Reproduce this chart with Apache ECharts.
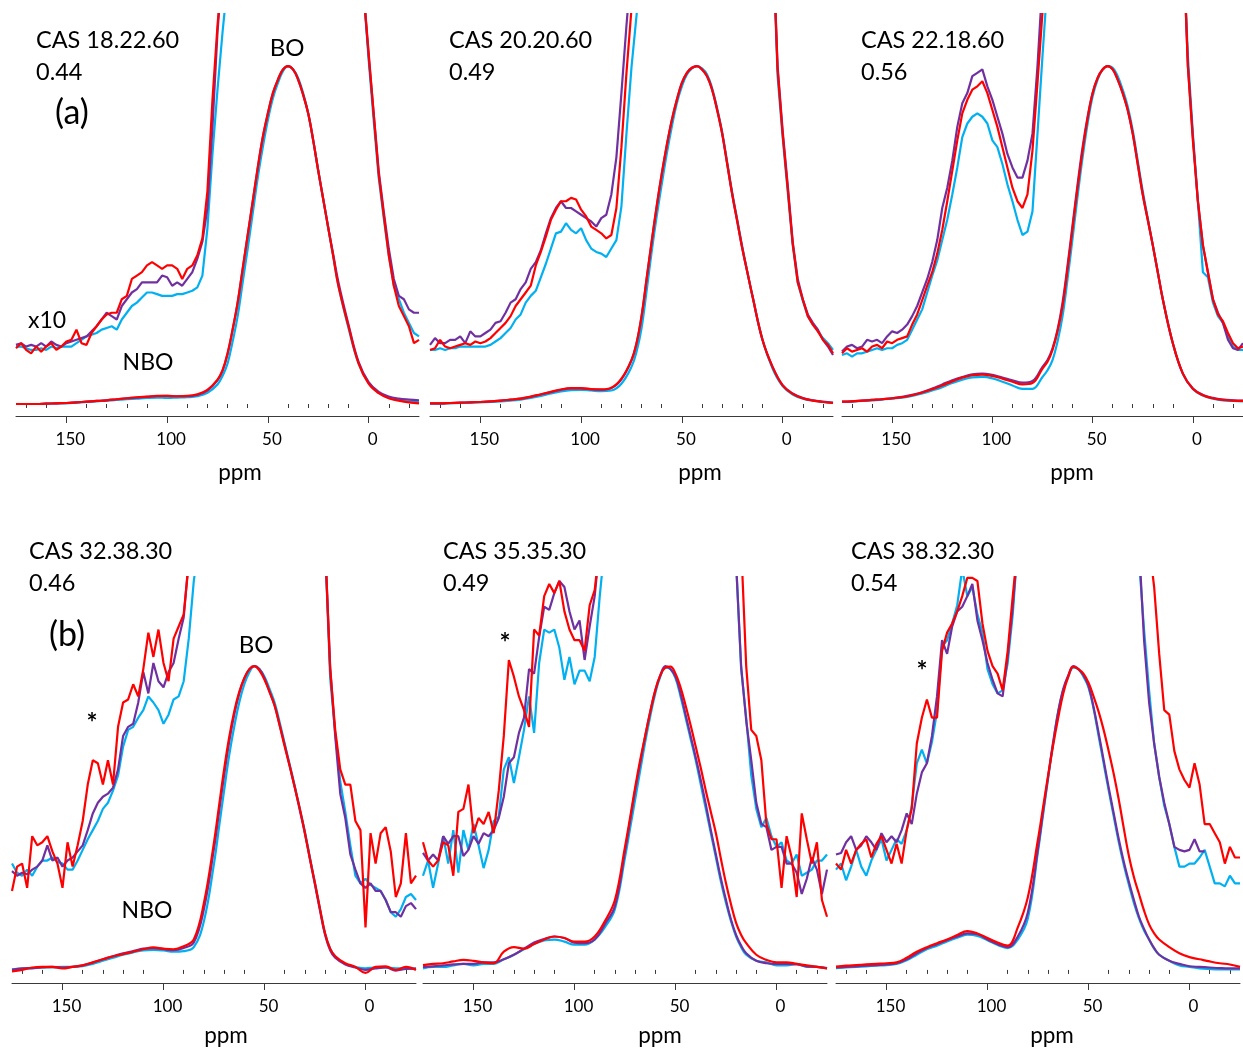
<!DOCTYPE html>
<html>
<head>
<meta charset="utf-8">
<script src="https://cdn.jsdelivr.net/npm/echarts@6/dist/echarts.min.js"></script>
<style>
  html, body { margin: 0; padding: 0; background: #fff; }
  #chart { width: 1243px; height: 1053px; }
</style>
</head>
<body>
<div id="chart"></div>
<script>
// ppm grids (main curves finer around the BO peak)
const ppmMain = [175,170,165,160,155,150,145,140,135,130,125,120,115,110,105,100,95,90,85,80,
  75,72.5,70,67.5,65,62.5,60,57.5,55,52.5,50,47.5,45,42.5,40,37.5,35,32.5,30,27.5,25,22.5,20,17.5,
  15,10,5,0,-5,-10,-15,-20,-25];
const ppmFine = [175,172.5,170,167.5,165,162.5,160,157.5,155,152.5,150,147.5,145,142.5,140,137.5,135,132.5,130,127.5,125,122.5,120,117.5,115,112.5,110,107.5,105,102.5,100,97.5,95,92.5,90,87.5,85,82.5,80,77.5,75,72.5,70,67.5,65,62.5,60,57.5,55,52.5,50,47.5,45,42.5,40,37.5,35,32.5,30,27.5,25,22.5,20,17.5,15,12.5,10,7.5,5,2.5,0,-2.5,-5,-7.5,-10,-12.5,-15,-17.5,-20,-22.5,-25];
const tickLabels = [150, 100, 50, 0];
const minorTicks = [170,160,140,130,120,110,90,80,70,60,40,30,20,10,-10,-20];

// panel titles
const casNames = ['CAS 18.22.60', 'CAS 20.20.60', 'CAS 22.18.60', 'CAS 32.38.30', 'CAS 35.35.30', 'CAS 38.32.30'];
const ratios = ['0.44', '0.49', '0.56', '0.46', '0.49', '0.54'];

// ---- panel 1 (CAS 18.22.60) ----
const p1CyanMain = [0,0,0,0.001,0.002,0.002,0.004,0.006,0.008,0.01, 0.012,0.014,0.016,0.018,0.019,0.018,0.019,0.02,0.023,0.033,
  0.058,0.083,0.12,0.185,0.26,0.36,0.46,0.565,0.67,0.76,0.84,0.905,0.95,0.985,1.0,0.99,0.965,0.92,0.86,0.78,0.69,0.605,0.52,0.435,
  0.35,0.225,0.12,0.062,0.033,0.018,0.011,0.007,0.005];
const p1PurpleMain = [0,0,0,0.001,0.002,0.003,0.005,0.007,0.009,0.011, 0.014,0.017,0.019,0.021,0.023,0.024,0.023,0.023,0.027,0.04,
  0.07,0.098,0.148,0.22,0.3,0.4,0.5,0.6,0.7,0.79,0.86,0.92,0.96,0.99,1.0,0.99,0.96,0.915,0.86,0.78,0.69,0.605,0.52,0.44,
  0.36,0.235,0.125,0.065,0.036,0.022,0.016,0.013,0.011];
const p1RedMain = [0,0,0,0.001,0.002,0.003,0.005,0.007,0.009,0.011, 0.014,0.017,0.02,0.022,0.024,0.024,0.023,0.024,0.029,0.042,
  0.072,0.1,0.15,0.22,0.3,0.4,0.5,0.6,0.7,0.79,0.86,0.92,0.96,0.99,1.0,0.99,0.96,0.915,0.86,0.78,0.69,0.605,0.52,0.435,
  0.35,0.23,0.12,0.06,0.032,0.017,0.01,0.005,0.002];
const p1CyanX10L = [0.17,0.17,0.165,0.16,0.16,0.165,0.16,0.17,0.165,0.17,0.17, 0.17,0.18,0.19,0.2,0.205,0.21,0.22,0.225,0.23,0.22, 0.25,0.27,0.29,0.30,0.315,0.33,0.33,0.325,0.32,0.32, 0.32,0.325,0.325,0.33,0.335,0.345,0.38,0.52,0.74,0.93,1.1,1.25];
const p1PurpleX10L = [0.175,0.18,0.17,0.175,0.17,0.18,0.17,0.185,0.175,0.17,0.18, 0.185,0.19,0.195,0.2,0.215,0.23,0.25,0.27,0.26,0.25, 0.29,0.31,0.33,0.34,0.36,0.36,0.36,0.36,0.38,0.375, 0.35,0.36,0.35,0.37,0.39,0.43,0.48,0.58,0.82,1.1,1.3];
const p1RedX10L = [0.165,0.18,0.16,0.15,0.17,0.155,0.17,0.18,0.16,0.17,0.185, 0.19,0.22,0.18,0.175,0.21,0.23,0.25,0.265,0.27,0.27, 0.31,0.32,0.37,0.38,0.39,0.41,0.42,0.41,0.40,0.41, 0.41,0.40,0.37,0.40,0.41,0.44,0.49,0.63,0.9,1.12,1.3];
const p1CyanX10R = [1.22,1.02,0.84,0.67,0.55,0.44,0.35,0.31,0.27,0.24,0.21,0.2];
const p1PurpleX10R = [1.22,1.03,0.86,0.69,0.57,0.46,0.37,0.32,0.31,0.28,0.27,0.27];
const p1RedX10R = [1.22,1.04,0.86,0.68,0.56,0.44,0.35,0.29,0.26,0.23,0.18,0.19];

// ---- panel 2 (CAS 20.20.60) ----
const p2CyanMain = [0.001,0.001,0.002,0.003,0.004,0.005,0.006,0.008,0.01,0.013, 0.018,0.024,0.031,0.037,0.041,0.042,0.04,0.038,0.04,0.06,
  0.11,0.155,0.225,0.335,0.45,0.555,0.65,0.74,0.82,0.89,0.94,0.975,0.993,1.0,0.993,0.975,0.935,0.875,0.805,0.715,0.625,0.545,0.465,0.39,
  0.32,0.19,0.105,0.053,0.028,0.016,0.01,0.006,0.003];
const p2PurpleMain = [0.002,0.002,0.003,0.004,0.005,0.006,0.008,0.01,0.013,0.016, 0.021,0.028,0.035,0.042,0.046,0.046,0.043,0.042,0.047,0.073,
  0.13,0.18,0.26,0.37,0.48,0.585,0.68,0.765,0.84,0.9,0.95,0.98,0.995,1.0,0.99,0.97,0.93,0.87,0.8,0.71,0.62,0.54,0.46,0.39,
  0.32,0.19,0.11,0.056,0.031,0.018,0.011,0.007,0.004];
const p2RedMain = [0.002,0.002,0.003,0.004,0.005,0.006,0.008,0.01,0.013,0.016, 0.022,0.029,0.036,0.043,0.047,0.047,0.044,0.043,0.048,0.075,
  0.13,0.18,0.26,0.37,0.48,0.585,0.68,0.765,0.84,0.9,0.95,0.98,0.995,1.0,0.99,0.97,0.93,0.87,0.8,0.71,0.62,0.54,0.46,0.39,
  0.32,0.19,0.11,0.055,0.03,0.017,0.01,0.006,0.003];
const p2CyanX10L = [0.16,0.16,0.165,0.16,0.165,0.165,0.17,0.17,0.17,0.17,0.17, 0.17,0.175,0.185,0.195,0.21,0.225,0.25,0.265,0.3,0.32, 0.335,0.375,0.415,0.46,0.505,0.51,0.535,0.515,0.505,0.52, 0.485,0.46,0.45,0.445,0.435,0.46,0.485,0.585,0.8,0.997,1.15,1.3];
const p2PurpleX10L = [0.175,0.195,0.18,0.18,0.19,0.19,0.2,0.18,0.215,0.2,0.2, 0.21,0.22,0.24,0.245,0.27,0.3,0.31,0.34,0.36,0.4, 0.42,0.455,0.505,0.55,0.58,0.6,0.58,0.58,0.57,0.56, 0.55,0.54,0.525,0.55,0.56,0.62,0.73,0.92,1.12,1.3];
const p2RedX10L = [0.16,0.165,0.19,0.17,0.165,0.17,0.175,0.18,0.175,0.185,0.18, 0.185,0.195,0.21,0.225,0.24,0.26,0.29,0.31,0.33,0.35, 0.41,0.45,0.495,0.545,0.575,0.6,0.6,0.61,0.605,0.575, 0.555,0.525,0.515,0.505,0.49,0.5,0.58,0.76,0.98,1.17,1.3];
const p2CyanX10R = [1.4,0.97,0.79,0.63,0.47,0.36,0.305,0.26,0.235,0.215,0.195,0.18,0.16];
const p2PurpleX10R = [1.4,1.0,0.81,0.65,0.48,0.37,0.31,0.265,0.24,0.22,0.19,0.17,0.145];
const p2RedX10R = [1.4,0.99,0.8,0.64,0.475,0.36,0.31,0.26,0.235,0.215,0.19,0.175,0.15];

// ---- panel 3 (CAS 22.18.60) ----
const p3CyanMain = [0.006,0.007,0.009,0.011,0.013,0.016,0.019,0.024,0.031,0.04, 0.05,0.062,0.072,0.079,0.08,0.076,0.066,0.055,0.045,0.045,
  0.08,0.1,0.13,0.185,0.26,0.37,0.49,0.615,0.73,0.83,0.91,0.96,0.99,1.0,0.995,0.97,0.93,0.88,0.81,0.72,0.63,0.55,0.47,0.39,
  0.31,0.18,0.09,0.044,0.025,0.016,0.011,0.009,0.008];
const p3PurpleMain = [0.007,0.008,0.01,0.012,0.014,0.017,0.021,0.027,0.035,0.046, 0.058,0.07,0.08,0.088,0.09,0.086,0.078,0.07,0.063,0.068,
  0.11,0.13,0.165,0.22,0.3,0.41,0.53,0.65,0.76,0.85,0.92,0.965,0.99,1.0,0.99,0.96,0.92,0.87,0.8,0.71,0.62,0.545,0.47,0.39,
  0.31,0.18,0.09,0.046,0.027,0.018,0.013,0.011,0.01];
const p3RedMain = [0.007,0.008,0.01,0.012,0.014,0.017,0.02,0.026,0.034,0.044, 0.055,0.067,0.078,0.085,0.087,0.083,0.075,0.066,0.058,0.062,
  0.105,0.125,0.16,0.215,0.29,0.4,0.52,0.64,0.75,0.845,0.92,0.965,0.99,1.0,0.99,0.96,0.92,0.87,0.8,0.71,0.62,0.545,0.47,0.39,
  0.31,0.18,0.09,0.045,0.026,0.017,0.012,0.01,0.009];
const p3CyanX10L = [0.145,0.15,0.14,0.15,0.15,0.155,0.16,0.165,0.16,0.165,0.165, 0.175,0.18,0.19,0.22,0.25,0.28,0.33,0.38,0.425,0.485, 0.545,0.62,0.7,0.79,0.83,0.85,0.86,0.85,0.83,0.78, 0.76,0.71,0.65,0.6,0.545,0.5,0.51,0.57,0.8,1.03,1.25];
const p3PurpleX10L = [0.155,0.17,0.175,0.165,0.17,0.19,0.185,0.19,0.18,0.2,0.215, 0.21,0.22,0.235,0.26,0.29,0.33,0.37,0.42,0.485,0.58, 0.64,0.72,0.82,0.89,0.92,0.97,0.98,0.99,0.94,0.9, 0.85,0.8,0.74,0.7,0.67,0.67,0.72,0.8,1.0,1.25];
const p3RedX10L = [0.15,0.165,0.155,0.16,0.165,0.155,0.17,0.175,0.165,0.185,0.18, 0.19,0.195,0.2,0.235,0.265,0.307,0.35,0.39,0.445,0.515, 0.6,0.69,0.78,0.86,0.9,0.93,0.94,0.955,0.92,0.87, 0.82,0.76,0.7,0.64,0.6,0.58,0.62,0.75,0.95,1.16,1.35];
const p3CyanX10R = [1.4,1.03,0.8,0.6,0.39,0.375,0.3,0.26,0.24,0.2,0.17,0.16,0.16];
const p3PurpleX10R = [1.4,1.0,0.79,0.6,0.47,0.39,0.31,0.27,0.24,0.19,0.165,0.16,0.18];
const p3RedX10R = [1.4,1.0,0.78,0.6,0.47,0.39,0.31,0.265,0.245,0.21,0.18,0.165,0.17];

// ---- panel 4 (CAS 32.38.30) ----
const p4CyanMain = [0.002,0.004,0.005,0.008,0.008,0.01,0.01,0.012,0.02,0.03, 0.04,0.05,0.058,0.064,0.066,0.064,0.06,0.062,0.075,0.16,
  0.35,0.47,0.59,0.705,0.8,0.88,0.94,0.98,1.0,0.99,0.965,0.925,0.88,0.815,0.745,0.675,0.605,0.53,0.455,0.37,0.285,0.2,0.12,0.07,
  0.045,0.02,0.01,0.005,0.008,0.008,0.005,0.006,0.004];
const p4PurpleMain = [0.0,0.005,0.006,0.008,0.01,0.008,0.01,0.015,0.024,0.035, 0.045,0.055,0.062,0.07,0.072,0.068,0.065,0.072,0.09,0.2,
  0.4,0.52,0.64,0.75,0.84,0.91,0.96,0.99,1.0,0.99,0.96,0.915,0.87,0.805,0.74,0.67,0.6,0.525,0.45,0.365,0.28,0.195,0.115,0.065,
  0.04,0.018,0.008,0.0,0.005,0.008,-0.002,0.003,0.004];
const p4RedMain = [-0.005,0.0,0.008,0.01,0.01,0.005,0.01,0.015,0.025,0.035, 0.045,0.052,0.06,0.068,0.074,0.07,0.068,0.078,0.1,0.22,
  0.42,0.54,0.66,0.765,0.85,0.915,0.96,0.99,1.0,0.985,0.955,0.915,0.87,0.805,0.735,0.67,0.6,0.53,0.45,0.365,0.285,0.2,0.12,0.07,
  0.045,0.022,0.01,-0.01,0.01,0.012,0.0,0.01,0.0];
const p4CyanX10L = [0.35,0.32,0.31,0.33,0.31,0.34,0.36,0.36,0.37,0.356,0.35, 0.33,0.33,0.36,0.395,0.43,0.46,0.49,0.53,0.55,0.59, 0.64,0.735,0.79,0.8,0.83,0.855,0.9,0.88,0.855,0.81, 0.84,0.89,0.9,0.95,1.09,1.28,1.4];
const p4PurpleX10L = [0.325,0.31,0.32,0.315,0.33,0.34,0.36,0.41,0.36,0.37,0.34, 0.36,0.37,0.39,0.41,0.46,0.515,0.55,0.57,0.58,0.6, 0.66,0.77,0.8,0.81,0.88,0.98,0.91,1.01,0.95,0.93, 0.98,1.01,1.09,1.16,1.35];
const p4RedX10L = [0.26,0.34,0.35,0.27,0.44,0.41,0.42,0.44,0.39,0.35,0.27, 0.42,0.34,0.41,0.49,0.61,0.69,0.68,0.61,0.69,0.61, 0.8,0.88,0.89,0.94,0.9,0.99,1.11,1.03,1.12,1.01, 0.95,1.09,1.13,1.17,1.34,1.5];
const p4CyanX10R = [1.4,0.96,0.78,0.62,0.52,0.41,0.31,0.285,0.3,0.28,0.27,0.26,0.23,0.19,0.175,0.2,0.24,0.25,0.23];
const p4PurpleX10R = [1.4,1.0,0.77,0.58,0.5,0.38,0.33,0.285,0.27,0.285,0.26,0.26,0.23,0.19,0.19,0.175,0.21,0.22,0.2];
const p4RedX10R = [1.4,0.99,0.79,0.66,0.61,0.61,0.49,0.46,0.14,0.45,0.35,0.45,0.47,0.39,0.24,0.285,0.45,0.285,0.31];

// ---- panel 5 (CAS 35.35.30) ----
const p5CyanMain = [0.005,0.01,0.01,0.015,0.02,0.015,0.02,0.02,0.035,0.05, 0.068,0.085,0.097,0.1,0.093,0.083,0.083,0.1,0.14,0.2,
  0.37,0.465,0.56,0.655,0.75,0.835,0.91,0.965,0.995,0.99,0.96,0.9,0.83,0.76,0.69,0.61,0.53,0.45,0.37,0.29,0.22,0.16,0.11,0.075,
  0.05,0.03,0.025,0.015,0.015,0.02,0.01,0.01,0.005];
const p5PurpleMain = [0.01,0.012,0.015,0.018,0.02,0.02,0.025,0.025,0.035,0.05, 0.07,0.09,0.102,0.11,0.105,0.09,0.088,0.1,0.15,0.21,
  0.39,0.49,0.59,0.68,0.77,0.85,0.92,0.97,1.0,0.99,0.965,0.91,0.84,0.77,0.7,0.625,0.545,0.46,0.38,0.3,0.23,0.165,0.115,0.08,
  0.055,0.03,0.022,0.02,0.02,0.018,0.012,0.01,0.006];
const p5RedMain = [0.016,0.02,0.022,0.028,0.033,0.03,0.025,0.022,0.06,0.075, 0.07,0.085,0.1,0.11,0.105,0.093,0.093,0.11,0.16,0.23,
  0.405,0.5,0.6,0.69,0.77,0.85,0.92,0.97,0.995,0.998,0.975,0.93,0.87,0.805,0.735,0.665,0.59,0.52,0.45,0.365,0.285,0.215,0.155,0.115,
  0.088,0.05,0.033,0.025,0.025,0.02,0.015,0.01,0.005];
const p5CyanX10L = [0.31,0.36,0.27,0.35,0.44,0.35,0.46,0.32,0.46,0.395,0.48, 0.41,0.335,0.395,0.49,0.505,0.66,0.7,0.615,0.7,0.79, 0.9,0.78,1.01,1.12,1.11,1.12,1.06,0.955,1.03,0.94, 0.985,0.985,0.95,1.03,1.23,1.4];
const p5PurpleX10L = [0.385,0.36,0.38,0.36,0.44,0.415,0.44,0.44,0.375,0.395,0.44, 0.415,0.45,0.44,0.46,0.5,0.57,0.68,0.7,0.78,0.83, 0.99,0.975,1.095,1.195,1.185,1.24,1.28,1.26,1.18,1.12, 1.15,1.02,1.13,1.23,1.4];
const p5RedX10L = [0.42,0.36,0.34,0.36,0.42,0.41,0.31,0.52,0.53,0.61,0.45, 0.5,0.48,0.52,0.45,0.59,0.77,1.02,0.965,0.9,0.855, 0.8,1.12,1.1,1.23,1.27,1.24,1.28,1.18,1.12,1.085, 1.085,1.05,1.2,1.25,1.4];
const p5CyanX10R = [1.34,0.99,0.83,0.64,0.53,0.47,0.5,0.44,0.405,0.42,0.36,0.35,0.38,0.31,0.32,0.33,0.36,0.36,0.38];
const p5PurpleX10R = [1.34,1.0,0.82,0.69,0.55,0.48,0.47,0.395,0.405,0.405,0.35,0.35,0.32,0.25,0.3,0.37,0.33,0.25,0.33];
const p5RedX10R = [1.4,1.0,0.79,0.77,0.69,0.48,0.43,0.43,0.27,0.44,0.37,0.24,0.515,0.43,0.35,0.42,0.23,0.175];

// ---- panel 6 (CAS 38.32.30) ----
const p6CyanMain = [0.006,0.008,0.01,0.012,0.014,0.016,0.02,0.032,0.05,0.068, 0.08,0.094,0.106,0.116,0.112,0.098,0.082,0.072,0.1,0.17,
  0.39,0.51,0.63,0.745,0.85,0.92,0.965,0.995,0.99,0.965,0.93,0.86,0.77,0.68,0.59,0.505,0.42,0.345,0.28,0.22,0.17,0.13,0.1,0.07,
  0.05,0.03,0.015,0.01,0.005,0.003,0.002,0.002,0.002];
const p6PurpleMain = [0.008,0.01,0.012,0.014,0.016,0.018,0.022,0.035,0.055,0.072, 0.085,0.098,0.11,0.12,0.118,0.1,0.085,0.075,0.11,0.19,
  0.4,0.52,0.635,0.75,0.85,0.925,0.97,1.0,0.99,0.97,0.935,0.865,0.78,0.69,0.6,0.515,0.43,0.355,0.29,0.23,0.175,0.135,0.1,0.072,
  0.05,0.03,0.02,0.012,0.01,0.008,0.006,0.005,0.005];
const p6RedMain = [0.011,0.014,0.016,0.018,0.02,0.022,0.025,0.04,0.06,0.075, 0.088,0.1,0.115,0.128,0.12,0.105,0.09,0.08,0.14,0.24,
  0.43,0.535,0.64,0.74,0.83,0.91,0.965,0.998,0.99,0.975,0.945,0.9,0.85,0.79,0.72,0.645,0.56,0.465,0.375,0.305,0.25,0.195,0.15,0.12,
  0.1,0.075,0.055,0.042,0.035,0.028,0.022,0.018,0.01];
const p6CyanX10L = [0.33,0.35,0.295,0.34,0.395,0.34,0.31,0.36,0.395,0.43,0.36, 0.395,0.43,0.415,0.46,0.54,0.68,0.725,0.68,0.75,0.85, 1.065,1.085,1.14,1.2,1.32,1.23,1.26,1.17,1.11,0.99, 0.94,0.91,0.92,1.01,1.17,1.4];
const p6PurpleX10L = [0.38,0.385,0.42,0.44,0.395,0.41,0.44,0.42,0.395,0.45,0.42, 0.44,0.42,0.46,0.515,0.48,0.58,0.65,0.68,0.77,0.9, 1.085,1.04,1.13,1.18,1.195,1.23,1.27,1.15,1.085,1.01, 0.955,0.91,0.9,1.03,1.195,1.4];
const p6RedX10L = [0.35,0.33,0.395,0.35,0.395,0.415,0.43,0.37,0.415,0.44,0.395, 0.35,0.415,0.35,0.46,0.53,0.745,0.83,0.89,0.83,0.83, 1.05,1.11,1.14,1.18,1.23,1.29,1.29,1.28,1.14,1.05, 1.0,0.975,0.92,1.05,1.23,1.4];
const p6CyanX10R = [1.35,1.12,0.92,0.745,0.635,0.54,0.48,0.405,0.34,0.34,0.35,0.35,0.37,0.395,0.34,0.285,0.285,0.275,0.31,0.285,0.285];
const p6PurpleX10R = [1.4,1.085,0.88,0.745,0.635,0.55,0.48,0.405,0.395,0.39,0.395,0.43,0.39,0.39,null,null,null,null,null,null,null];
const p6RedX10R = [1.4,1.26,1.04,0.855,0.84,0.72,0.66,0.625,0.6,0.68,0.61,0.48,0.48,0.45,0.42,0.35,0.405,0.37,0.37];

const panels = [
  { main: [p1CyanMain, p1PurpleMain, p1RedMain], left: [p1CyanX10L, p1PurpleX10L, p1RedX10L], right: [p1CyanX10R, p1PurpleX10R, p1RedX10R] },
  { main: [p2CyanMain, p2PurpleMain, p2RedMain], left: [p2CyanX10L, p2PurpleX10L, p2RedX10L], right: [p2CyanX10R, p2PurpleX10R, p2RedX10R] },
  { main: [p3CyanMain, p3PurpleMain, p3RedMain], left: [p3CyanX10L, p3PurpleX10L, p3RedX10L], right: [p3CyanX10R, p3PurpleX10R, p3RedX10R] },
  { main: [p4CyanMain, p4PurpleMain, p4RedMain], left: [p4CyanX10L, p4PurpleX10L, p4RedX10L], right: [p4CyanX10R, p4PurpleX10R, p4RedX10R] },
  { main: [p5CyanMain, p5PurpleMain, p5RedMain], left: [p5CyanX10L, p5PurpleX10L, p5RedX10L], right: [p5CyanX10R, p5PurpleX10R, p5RedX10R] },
  { main: [p6CyanMain, p6PurpleMain, p6RedMain], left: [p6CyanX10L, p6PurpleX10L, p6RedX10L], right: [p6CyanX10R, p6PurpleX10R, p6RedX10R] }
];
const lineColors = ['#00B0F0', '#7030A0', '#FF0000'];

// layout
const gridLeft = [16, 430, 842, 12, 423, 836];
const gridTop = [14, 14, 14, 577, 577, 577];
const gridW = [403, 403, 403, 404, 404, 404];
const gridH = [402, 402, 402, 406, 406, 406];
const yMin = [-0.0355, -0.0355, -0.0355, -0.043, -0.043, -0.043];
const yMax = [1.154, 1.154, 1.154, 1.293, 1.293, 1.293];
const FONT = 'Lato, "Open Sans", sans-serif';
const axisColor = '#3a3a3a';

function mainData(vals) { return vals.map((v, i) => [ppmMain[i], v]); }
function leftData(vals) { return vals.map((v, i) => [ppmFine[i], v]); }
function rightData(vals) {
  const off = ppmFine.length - vals.length;
  return vals.map((v, i) => [ppmFine[off + i], v]);
}

let grid = [], xAxis = [], yAxis = [], series = [];
panels.forEach((p, g) => {
  grid.push({ left: gridLeft[g], top: gridTop[g], width: gridW[g], height: gridH[g], containLabel: false });
  // major ticks + labels
  xAxis.push({
    type: 'value', gridIndex: g, min: -25, max: 175, inverse: true, position: 'bottom',
    axisLine: { show: true, onZero: false, lineStyle: { color: axisColor, width: 1 } },
    axisTick: { show: true, customValues: tickLabels, length: 7, lineStyle: { color: axisColor } },
    axisLabel: { customValues: tickLabels, margin: 15, fontSize: 17, color: '#000', fontFamily: FONT, padding: [0, 0, 0, 8] },
    splitLine: { show: false }
  });
  // minor ticks
  xAxis.push({
    type: 'value', gridIndex: g, min: -25, max: 175, inverse: true, position: 'bottom',
    axisLine: { show: false },
    axisTick: { show: true, customValues: minorTicks, length: 4, lineStyle: { color: axisColor } },
    axisLabel: { show: false },
    splitLine: { show: false }
  });
  yAxis.push({ type: 'value', gridIndex: g, min: yMin[g], max: yMax[g], show: false });

  for (let k = 0; k < 3; k++) {
    const base = { type: 'line', xAxisIndex: 2 * g, yAxisIndex: g, symbol: 'none', silent: true,
                   clip: true, lineStyle: { color: lineColors[k], width: 2.2 }, itemStyle: { color: lineColors[k] } };
    series.push(Object.assign({}, base, { data: mainData(p.main[k]), smooth: 0.4 }));
    series.push(Object.assign({}, base, { data: leftData(p.left[k]) }));
    series.push(Object.assign({}, base, { data: rightData(p.right[k]) }));
  }
});

function txt(x, y, s, size, align, weight) {
  return { type: 'text', x: x, y: y, silent: true,
    style: { text: s, fontSize: size, fontFamily: FONT, fontWeight: weight || 'normal', fill: '#000',
             align: align || 'left', verticalAlign: 'middle' } };
}
const textX = [36, 449, 861, 29, 443, 851];
const textY = [40, 40, 40, 551, 551, 551];
let graphic = [];
for (let g = 0; g < 6; g++) {
  graphic.push(txt(textX[g], textY[g], casNames[g], 23.5));
  graphic.push(txt(textX[g], textY[g] + 32, ratios[g], 23.5));
}
graphic.push(txt(72, 113, '(a)', 34, 'center'));
graphic.push(txt(67, 635, '(b)', 34, 'center'));
graphic.push(txt(287, 48, 'BO', 24, 'center'));
graphic.push(txt(256, 645, 'BO', 24, 'center'));
graphic.push(txt(28, 321, 'x10', 23));
graphic.push(txt(148, 363, 'NBO', 23, 'center'));
graphic.push(txt(147, 911, 'NBO', 23, 'center'));
graphic.push(txt(92, 724, '*', 26, 'center', 'bold'));
graphic.push(txt(505, 644, '*', 26, 'center', 'bold'));
graphic.push(txt(922, 672, '*', 26, 'center', 'bold'));
const ppmX = [240, 700, 1072, 226, 660, 1052];
const ppmY = [473, 473, 473, 1036, 1036, 1036];
for (let g = 0; g < 6; g++) graphic.push(txt(ppmX[g], ppmY[g], 'ppm', 22.5, 'center'));

const chart = echarts.init(document.getElementById('chart'));
chart.setOption({
  animation: false,
  backgroundColor: '#fff',
  grid: grid,
  xAxis: xAxis,
  yAxis: yAxis,
  series: series,
  graphic: graphic
});
</script>
</body>
</html>
